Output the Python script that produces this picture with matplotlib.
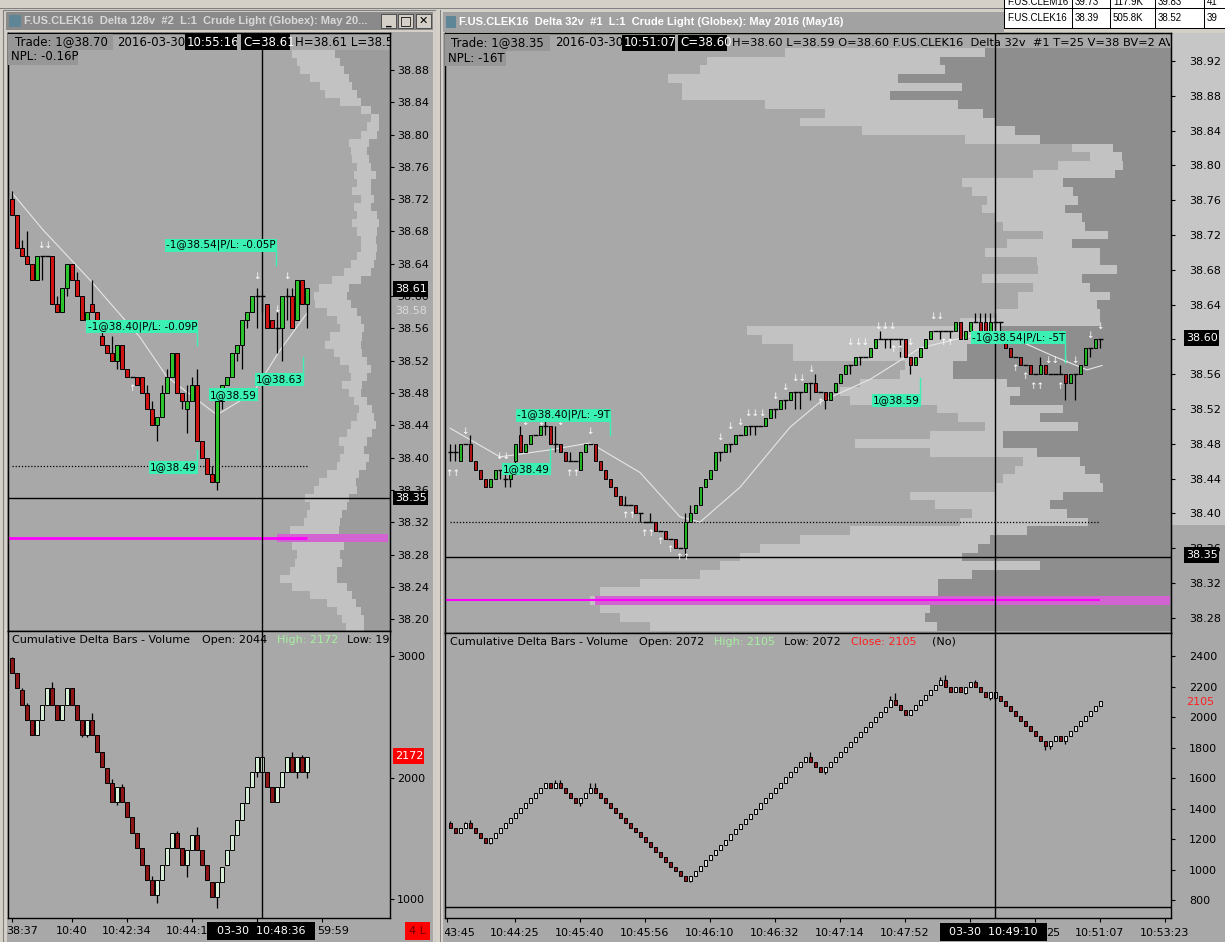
import numpy as np
import matplotlib
matplotlib.use('Agg')
import matplotlib.pyplot as plt
from matplotlib.patches import Rectangle
from matplotlib.transforms import Bbox, TransformedBbox, blended_transform_factory

W, H = 1225, 942
plt.rcParams['font.family'] = ['DejaVu Sans']

# ---------------- left window: Delta 128v (prices in cents above 38.00) ----------------
l_open = [72, 70, 66, 65, 64, 62, 65, 65, 65, 59, 58, 61, 64, 62, 60, 57, 59, 58, 55, 54,
          53, 52, 54, 51, 50, 50, 50, 48, 46, 44, 45, 48, 50, 53, 48, 46, 47, 49, 42, 40,
          38, 37, 47, 49, 50, 53, 54, 57, 58, 60, 60, 59, 57, 56, 56, 60, 60, 57, 62, 59]
l_close = [70, 66, 65, 64, 62, 65, 65, 65, 59, 58, 61, 64, 62, 60, 57, 58, 58, 57, 54, 53,
           52, 54, 51, 50, 50, 49, 48, 46, 44, 45, 48, 50, 53, 48, 47, 47, 49, 42, 40, 38,
           37, 47, 49, 50, 53, 54, 57, 58, 60, 60, 60, 56, 56, 56, 60, 60, 56, 62, 59, 61]
l_high = [73, 70, 67, 68, 64, 65, 65, 65, 65, 60, 61, 64, 64, 63, 60, 58, 62, 58, 56, 54,
          55, 54, 54, 51, 50, 50, 50, 49, 47, 45, 49, 51, 53, 53, 48, 49, 50, 51, 42, 40,
          39, 47, 49, 50, 53, 54, 57, 58, 60, 61, 60, 59, 57, 58, 60, 61, 61, 62, 62, 61]
l_low = [70, 66, 65, 64, 62, 62, 62, 65, 59, 58, 58, 60, 62, 60, 57, 57, 58, 57, 54, 53,
         52, 51, 51, 50, 50, 49, 48, 46, 44, 42, 45, 48, 50, 48, 46, 43, 47, 42, 40, 38,
         37, 36, 46, 49, 50, 52, 51, 56, 58, 56, 58, 56, 56, 53, 52, 57, 56, 57, 59, 56]

l_cd_open = [2981, 2857, 2720, 2597, 2473, 2350, 2473, 2597, 2734, 2597,
             2473, 2597, 2734, 2597, 2473, 2350, 2473, 2350, 2213, 2076,
             1952, 1801, 1925, 1801, 1678, 1541, 1417, 1280, 1157, 1033,
             1157, 1280, 1417, 1541, 1417, 1280, 1404, 1527, 1404, 1280,
             1143, 1020, 1143, 1280, 1404, 1527, 1650, 1788, 1925, 2048,
             2048, 2048, 1925, 1801, 1925, 2048, 2172, 2048, 2172, 2048]
l_cd_close = [2857, 2734, 2597, 2473, 2350, 2473, 2597, 2734, 2597, 2473,
              2597, 2734, 2597, 2473, 2350, 2473, 2350, 2213, 2089, 1952,
              1801, 1925, 1801, 1678, 1541, 1417, 1280, 1157, 1033, 1157,
              1280, 1417, 1541, 1417, 1280, 1404, 1527, 1404, 1280, 1157,
              1020, 1143, 1266, 1404, 1527, 1650, 1788, 1925, 2048, 2172,
              2172, 1925, 1801, 1925, 2048, 2172, 2048, 2172, 2048, 2172]
l_cd_high = [2995, 2857, 2740, 2610, 2473, 2473, 2597, 2734, 2790, 2597,
             2597, 2734, 2734, 2597, 2473, 2473, 2530, 2350, 2213, 2076,
             1990, 1925, 1950, 1801, 1678, 1541, 1417, 1280, 1190, 1157,
             1280, 1417, 1541, 1560, 1417, 1404, 1527, 1596, 1404, 1280,
             1143, 1143, 1266, 1404, 1527, 1650, 1788, 1925, 2048, 2172,
             2172, 2048, 1925, 1925, 2048, 2172, 2213, 2172, 2185, 2172]
l_cd_low = [2857, 2734, 2597, 2473, 2350, 2350, 2473, 2597, 2597, 2473,
            2473, 2597, 2597, 2473, 2330, 2330, 2350, 2213, 2089, 1952,
            1801, 1770, 1801, 1678, 1541, 1417, 1280, 1157, 1033, 965,
            1157, 1280, 1417, 1417, 1280, 1184, 1404, 1404, 1280, 1157,
            1020, 924, 1143, 1280, 1404, 1527, 1650, 1788, 1925, 2007,
            2034, 1925, 1801, 1801, 1925, 2048, 2048, 1993, 2048, 1993]

l_ma_idx = [0, 6.2, 15.6, 25.6, 31, 41, 48.2, 53.6, 59]
l_ma_val = [38.728, 38.682, 38.620, 38.549, 38.500, 38.453, 38.480, 38.533, 38.579]

# volume profile rows 38.90 .. 38.19 (dark part at the right edge, light part to its left)
l_prof_top = 38.90
l_prof_dark = [55, 50, 46, 41, 38, 33, 29, 19, 11, 11, 13, 21, 23, 21, 19, 14, 19, 19, 16, 19,
               13, 11, 13, 14, 13, 14, 16, 19, 29, 41, 43, 39, 33, 29, 26, 28, 29, 28, 23, 19,
               23, 28, 29, 23, 18, 16, 14, 18, 23, 26, 21, 24, 31, 34, 33, 41, 43, 48, 50, 51,
               50, 46, 50, 48, 53, 53, 43, 38, 34, 29, 26, 26]
l_prof_light = [43, 43, 44, 39, 32, 32, 21, 10, 8, 12, 16, 20, 16, 17, 14, 22, 14, 19, 13, 17,
                20, 27, 20, 15, 16, 19, 23, 27, 29, 30, 33, 36, 30, 24, 24, 32, 36, 28, 27, 22,
                16, 20, 12, 13, 13, 17, 25, 25, 28, 20, 29, 29, 32, 37, 43, 44, 37, 35, 36, 49,
                43, 52, 43, 47, 47, 57, 55, 42, 29, 24, 22, 18]

# time axis: tick bars, and the visible part of each label with its bar position
l_xticks = [0, 12, 23, 36, 49, 62]
l_xlab_pos = [2, 12, 23, 35, 64.2]
l_xlabels = ['38:37', '10:40', '10:42:34', '10:44:1', '59:59']

l_trades = [(52.8, 38.663, 38.639, '-1@38.54|P/L: -0.05P'),
            (37.0, 38.562, 38.539, '-1@38.40|P/L: -0.09P'),
            (37.0, 38.388, 38.409, '1@38.49'),
            (49.0, 38.478, None, '1@38.59'),
            (58.2, 38.497, 38.525, '1@38.63')]
l_arrows = [(6.6, 38.663, '↓↓'), (49, 38.624, '↓'), (55, 38.624, '↓'),
            (53, 38.584, '↓'), (24, 38.486, '↑')]

# ---------------- right window: Delta 32v ----------------
r_open = [47, 47, 46, 48, 48, 46, 45, 44, 43, 44, 45, 44, 44, 46, 49, 47, 48, 49, 49, 50,
          50, 48, 48, 47, 46, 46, 45, 47, 48, 48, 46, 45, 44, 43, 42, 41, 41, 41, 40, 39,
          39, 39, 38, 38, 37, 37, 36, 36, 39, 40, 41, 43, 44, 45, 47, 47, 48, 48, 49, 49,
          50, 50, 50, 50, 51, 52, 52, 53, 53, 54, 54, 54, 55, 55, 54, 54, 53, 54, 55, 56,
          57, 57, 58, 58, 58, 59, 60, 60, 60, 60, 60, 60, 58, 57, 58, 59, 60, 61, 61, 61,
          61, 61, 62, 60, 61, 62, 62, 62, 61, 62, 62, 60, 59, 58, 58, 57, 57, 56, 56, 57,
          56, 56, 56, 56, 55, 56, 56, 57, 59, 59, 60]
r_close = [47, 47, 48, 48, 46, 45, 44, 43, 44, 45, 45, 44, 45, 48, 47, 48, 49, 49, 50, 50,
           48, 48, 47, 46, 46, 46, 47, 48, 48, 46, 45, 44, 43, 42, 41, 41, 41, 40, 40, 39,
           39, 38, 38, 37, 37, 36, 36, 39, 40, 41, 43, 44, 45, 47, 47, 48, 48, 49, 49, 50,
           50, 50, 50, 51, 52, 52, 53, 53, 54, 54, 54, 55, 55, 54, 54, 53, 54, 55, 56, 57,
           57, 58, 58, 58, 59, 60, 60, 60, 60, 60, 60, 58, 57, 58, 59, 60, 61, 61, 61, 61,
           61, 62, 60, 61, 62, 62, 61, 61, 62, 62, 62, 59, 58, 58, 57, 57, 56, 56, 57, 56,
           56, 56, 56, 55, 56, 56, 57, 59, 59, 60, 60]
r_high = [48, 48, 48, 48, 49, 46, 45, 44, 44, 45, 45, 45, 45, 48, 50, 48, 49, 49, 50, 51,
          50, 50, 48, 47, 47, 46, 47, 48, 48, 48, 46, 45, 44, 43, 42, 42, 41, 41, 40, 39,
          40, 39, 38, 38, 37, 37, 36, 40, 41, 41, 43, 44, 45, 47, 47, 48, 48, 49, 49, 50,
          50, 50, 50, 51, 52, 52, 53, 53, 54, 54, 54, 55, 55, 56, 54, 54, 54, 55, 56, 57,
          57, 58, 58, 58, 59, 60, 61, 60, 60, 60, 60, 60, 58, 58, 59, 60, 61, 61, 61, 61,
          61, 62, 62, 61, 62, 63, 63, 63, 63, 63, 62, 60, 59, 58, 58, 57, 57, 56, 58, 57,
          56, 56, 57, 56, 56, 56, 57, 59, 59, 60, 60]
r_low = [46, 46, 46, 48, 46, 45, 44, 43, 43, 44, 44, 43, 43, 45, 47, 47, 48, 49, 49, 49,
         48, 47, 47, 46, 46, 46, 45, 47, 48, 46, 45, 44, 43, 42, 41, 41, 41, 40, 39, 39,
         39, 38, 38, 37, 37, 36, 36, 35, 39, 40, 41, 43, 44, 45, 46, 47, 47, 48, 49, 49,
         49, 49, 50, 50, 51, 51, 52, 52, 53, 52, 52, 54, 53, 54, 54, 52, 53, 54, 55, 56,
         56, 57, 57, 58, 58, 59, 60, 59, 59, 60, 58, 58, 56, 57, 58, 59, 60, 61, 60, 61,
         60, 61, 60, 60, 61, 62, 61, 61, 61, 61, 61, 59, 58, 58, 57, 57, 56, 56, 56, 56,
         56, 56, 56, 53, 55, 53, 56, 57, 58, 59, 59]

r_cd_open = [1303, 1270, 1237, 1270, 1303, 1270, 1237, 1204, 1171, 1204,
             1237, 1270, 1303, 1336, 1369, 1402, 1435, 1468, 1501, 1534,
             1567, 1534, 1567, 1534, 1501, 1468, 1435, 1468, 1501, 1534,
             1501, 1467, 1435, 1403, 1371, 1339, 1307, 1275, 1243, 1211,
             1179, 1147, 1115, 1083, 1051, 1019, 987, 955, 925, 958,
             992, 1026, 1060, 1094, 1128, 1162, 1196, 1230, 1264, 1298,
             1332, 1366, 1400, 1434, 1468, 1502, 1536, 1570, 1604, 1638,
             1672, 1706, 1740, 1707, 1674, 1641, 1672, 1705, 1738, 1771,
             1804, 1837, 1870, 1903, 1936, 1969, 2002, 2035, 2068, 2111,
             2079, 2046, 2013, 2046, 2079, 2111, 2144, 2177, 2210, 2242,
             2199, 2166, 2199, 2155, 2199, 2232, 2199, 2166, 2122, 2122,
             2138, 2105, 2072, 2039, 2006, 1973, 1940, 1907, 1874, 1841,
             1808, 1841, 1874, 1841, 1874, 1907, 1940, 1973, 2006, 2039, 2072]
r_cd_close = [1270, 1237, 1270, 1303, 1270, 1237, 1204, 1171, 1204, 1237,
              1270, 1303, 1336, 1369, 1402, 1435, 1468, 1501, 1534, 1567,
              1534, 1567, 1534, 1501, 1468, 1435, 1468, 1501, 1534, 1501,
              1467, 1435, 1403, 1371, 1339, 1307, 1275, 1243, 1211, 1179,
              1147, 1115, 1083, 1051, 1019, 987, 955, 925, 958, 992,
              1026, 1060, 1094, 1128, 1162, 1196, 1230, 1264, 1298, 1332,
              1366, 1400, 1434, 1468, 1502, 1536, 1570, 1604, 1638, 1672,
              1706, 1740, 1707, 1674, 1641, 1672, 1705, 1738, 1771, 1804,
              1837, 1870, 1903, 1936, 1969, 2002, 2035, 2068, 2111, 2079,
              2046, 2013, 2046, 2079, 2111, 2144, 2177, 2210, 2242, 2199,
              2166, 2199, 2166, 2199, 2232, 2199, 2166, 2133, 2166, 2166,
              2105, 2072, 2039, 2006, 1973, 1940, 1907, 1874, 1841, 1808,
              1841, 1874, 1841, 1874, 1907, 1940, 1973, 2006, 2039, 2072, 2105]
r_cd_high = [1320, 1270, 1270, 1310, 1325, 1270, 1237, 1204, 1204, 1237,
             1270, 1303, 1336, 1369, 1402, 1435, 1468, 1501, 1534, 1567,
             1567, 1590, 1585, 1534, 1501, 1468, 1468, 1501, 1570, 1565,
             1501, 1467, 1435, 1403, 1371, 1339, 1307, 1275, 1243, 1211,
             1179, 1147, 1115, 1083, 1051, 1019, 987, 955, 958, 992,
             1026, 1060, 1094, 1128, 1162, 1196, 1230, 1264, 1298, 1332,
             1366, 1400, 1434, 1468, 1502, 1536, 1570, 1604, 1638, 1672,
             1706, 1740, 1770, 1707, 1674, 1672, 1705, 1738, 1771, 1804,
             1837, 1870, 1903, 1936, 1969, 2002, 2035, 2068, 2140, 2155,
             2079, 2046, 2046, 2079, 2111, 2144, 2177, 2210, 2265, 2275,
             2199, 2199, 2199, 2199, 2232, 2245, 2199, 2166, 2166, 2166,
             2138, 2105, 2072, 2039, 2006, 1973, 1940, 1907, 1874, 1841,
             1841, 1874, 1874, 1874, 1907, 1940, 1973, 2006, 2039, 2072, 2105]
r_cd_low = [1270, 1237, 1237, 1270, 1270, 1237, 1204, 1171, 1165, 1204,
            1237, 1270, 1303, 1336, 1369, 1402, 1435, 1468, 1501, 1534,
            1534, 1534, 1534, 1501, 1468, 1435, 1415, 1468, 1501, 1501,
            1467, 1435, 1403, 1371, 1339, 1307, 1275, 1243, 1211, 1179,
            1147, 1115, 1083, 1051, 1019, 987, 955, 925, 915, 958,
            992, 1026, 1060, 1094, 1128, 1162, 1196, 1230, 1264, 1298,
            1332, 1366, 1400, 1434, 1468, 1502, 1536, 1570, 1604, 1638,
            1672, 1706, 1707, 1674, 1641, 1625, 1672, 1705, 1738, 1771,
            1804, 1837, 1870, 1903, 1936, 1969, 2002, 2035, 2068, 2079,
            2046, 2013, 2013, 2046, 2079, 2111, 2144, 2177, 2210, 2199,
            2166, 2166, 2166, 2150, 2199, 2199, 2166, 2133, 2110, 2110,
            2105, 2072, 2039, 2006, 1973, 1940, 1907, 1874, 1841, 1785,
            1790, 1841, 1841, 1820, 1874, 1907, 1940, 1973, 2006, 2039, 2072]

r_ma_idx = [0, 10, 20, 28, 38, 46, 50, 58, 68, 74, 84, 94, 104, 114, 120.6, 127.4, 130.4]
r_ma_val = [38.498, 38.465, 38.473, 38.481, 38.447, 38.396, 38.390, 38.430, 38.499,
            38.528, 38.554, 38.590, 38.604, 38.598, 38.581, 38.565, 38.570]

# volume profile rows 38.93 .. 38.27
r_prof_top = 38.93
r_prof_dark = [186, 231, 226, 273, 209, 281, 213, 188, 176, 156, 131, 58, 49, 48, 56, 108, 98,
               93, 106, 89, 86, 63, 99, 71, 71, 54, 89, 81, 61, 74, 71, 71, 171, 198, 204, 204,
               218, 218, 164, 151, 161, 108, 131, 93, 168, 168, 134, 91, 86, 71, 68, 108, 121,
               104, 83, 144, 181, 193, 209, 131, 199, 233, 233, 241, 241, 246, 234]
r_prof_light = [200, 233, 245, 230, 280, 208, 193, 158, 195, 153, 75, 41, 32, 65, 82, 101, 101,
                91, 83, 87, 82, 65, 65, 115, 63, 79, 100, 57, 92, 79, 105, 140, 253, 211, 174,
                174, 48, 53, 147, 180, 160, 126, 82, 93, 73, 148, 107, 57, 70, 97, 108, 153, 115,
                95, 128, 177, 190, 218, 222, 320, 272, 298, 338, 340, 330, 305, 287]

r_xticks = [-0.6, 13, 26, 39, 52, 65, 78, 91, 104, 117, 130, 143]
r_xlab_pos = [1.8, 13, 26, 39, 52, 65, 78, 91, 120.6, 130, 143]
r_xlabels = ['43:45', '10:44:25', '10:45:40', '10:45:56', '10:46:10', '10:46:32',
             '10:47:14', '10:47:52', '25', '10:51:07', '10:53:23']

r_trades = [(32.0, 38.513, 38.490, '-1@38.40|P/L: -9T'),
            (20.0, 38.451, 38.475, '1@38.49'),
            (94.0, 38.530, 38.556, '1@38.59'),
            (123.0, 38.602, 38.574, '-1@38.54|P/L: -5T')]
r_arrows = [(3, 38.494, '↓'), (0.6, 38.446, '↑↑'), (10.6, 38.465, '↓↓'), (15, 38.504, '↓'),
            (18.2, 38.504, '↓'), (22, 38.504, '↓'), (28, 38.494, '↓'), (24.6, 38.446, '↑↑'),
            (35.7, 38.397, '↑↑'), (39.6, 38.377, '↑↑'), (42, 38.368, '↑'), (44, 38.358, '↑'),
            (46.6, 38.349, '↑↑'), (54, 38.487, '↓'), (56, 38.500, '↓'), (58, 38.505, '↓'),
            (61, 38.515, '↓↓↓'), (65, 38.534, '↓'), (67, 38.545, '↓'), (69.7, 38.555, '↓↓'),
            (72.2, 38.565, '↓'), (74, 38.527, '↑'), (80, 38.596, '↓'), (82.3, 38.596, '↓↓'),
            (87, 38.615, '↓↓↓'), (89.4, 38.588, '↑↑'), (92, 38.596, '↓'), (97.4, 38.626, '↓↓'),
            (99.4, 38.597, '↑↑'), (113, 38.567, '↑'), (115, 38.557, '↑'), (117.4, 38.546, '↑↑'),
            (120.4, 38.576, '↓↓'), (123, 38.576, '↓'), (125, 38.576, '↓'), (122, 38.546, '↑'),
            (128, 38.605, '↓'), (130, 38.615, '↓')]

BG = '#a8a8a8'
LABEL_BG = '#3cf0b4'


fig = plt.figure(figsize=(W / 100, H / 100), dpi=100, facecolor='#d4d0c8')


def add_ax(x0, y0, x1, y1):
    return fig.add_axes([x0 / W, 1 - y1 / H, (x1 - x0) / W, (y1 - y0) / H])


def rect(x0, y0, x1, y1, fc, z=-10, ec='none', lw=0):
    fig.add_artist(Rectangle((x0 / W, 1 - y1 / H), (x1 - x0) / W, (y1 - y0) / H,
                             transform=fig.transFigure, facecolor=fc, edgecolor=ec,
                             linewidth=lw, zorder=z))


def clip_px(x0, y0, x1, y1):
    return TransformedBbox(Bbox.from_extents(x0 / 100, (H - y1) / 100, x1 / 100, (H - y0) / 100),
                           fig.dpi_scale_trans)


def ftext(x, y, s, color='black', size=8, ha='left', weight='normal', clip=None, family=None, z=5):
    t = fig.text(x / W, 1 - y / H, s, color=color, fontsize=size, ha=ha, va='center',
                 fontweight=weight, zorder=z)
    if family:
        t.set_family(family)
    if clip is not None:
        t.set_clip_box(clip_px(*clip))
        t.set_clip_on(True)
    return t


def candles(ax, o, c, h, lo, w, up_fc, dn_fc, scale=1.0, base=0.0):
    o = np.asarray(o)
    c = np.asarray(c)
    x = np.arange(len(o))
    conv = lambda v: base + np.asarray(v) * scale
    ax.vlines(x, conv(lo), conv(h), colors='black', lw=0.9, zorder=3)
    up, dn, eq = c > o, c < o, c == o
    ax.bar(x[up], conv(c[up]) - conv(o[up]), w, bottom=conv(o[up]), color=up_fc,
           edgecolor='black', linewidth=0.7, zorder=4)
    ax.bar(x[dn], conv(o[dn]) - conv(c[dn]), w, bottom=conv(c[dn]), color=dn_fc,
           edgecolor='black', linewidth=0.7, zorder=4)
    ax.hlines(conv(o[eq]), x[eq] - 0.5, x[eq] + 0.5, colors='black', lw=1.0, zorder=4)


def style_axis(ax, pad):
    ax.yaxis.tick_right()
    ax.tick_params(axis='y', length=3, width=0.8, colors='black', labelsize=8, pad=pad)
    for s in ax.spines.values():
        s.set_color('black')
        s.set_linewidth(1)


def price_panel(box, ylim, prof_top, dark, light, width_px, dark_fc, band, yticks, hidden, pad, xlim):
    ax = add_ax(*box)
    ax.set_facecolor(BG)
    levels = np.round(prof_top - 0.01 * np.arange(len(dark)), 2)
    ax.barh(levels, dark, left=0, height=0.01, color=dark_fc, lw=0, antialiased=False)
    ax.barh(levels, light, left=dark, height=0.01, color='#c2c2c2', lw=0, antialiased=False)
    ax.barh(38.30, band[1], left=band[0], height=0.01, color='#d264d2', lw=0, antialiased=False)
    ax.set_xlim(width_px, 0)
    ax.set_ylim(*ylim)
    style_axis(ax, pad)
    ax.set_yticks(yticks)
    ax.set_yticklabels(['' if v in hidden else '%.2f' % v for v in yticks])
    ax.tick_params(axis='x', bottom=False, labelbottom=False)
    cx = ax.twiny()
    cx.set_xlim(*xlim)
    cx.tick_params(axis='x', top=False, labeltop=False)
    for s in cx.spines.values():
        s.set_color('black')
    return ax, cx


def trade_labels(ax, trades):
    for i, p, stem, s in trades:
        ax.text(i, p, s, ha='right', va='center', fontsize=7.5, color='black', zorder=7,
                bbox=dict(boxstyle='square,pad=0.12', fc=LABEL_BG, ec='none'))
        if stem is not None:
            ax.plot([i, i], [p, stem], color=LABEL_BG, lw=1, zorder=7)


def arrows(ax, items):
    for i, p, s in items:
        ax.text(i, p, s, ha='center', va='center', fontsize=6.5, color='white', zorder=6)


def time_axis(ax, ticks, pos, labels, y_px, clip):
    ax.set_xticks(ticks)
    ax.tick_params(axis='x', length=3, width=0.8, labelbottom=False)
    tr = blended_transform_factory(ax.transData, fig.transFigure)
    for i, s in zip(pos, labels):
        t = ax.text(i, 1 - y_px / H, s, transform=tr, ha='center', va='center', fontsize=8, zorder=5)
        t.set_clip_box(clip_px(*clip))
        t.set_clip_on(True)


# ---------------- window chrome ----------------
rect(0, 0, 1005, 10, '#d4d0c8')
rect(0, 8, 1005, 9, '#808080')
rect(3, 10, 436, 942, '#d4d0c8', ec='#808080', lw=0.8)
rect(7, 32, 433, 942, BG)
rect(6, 12, 433, 30, '#8a8a8a')
rect(9, 15, 21, 27, '#5f8696')
rect(436, 10, 443, 942, '#d4d0c8')
rect(440, 10, 441, 942, '#808080')
rect(443, 33, 1225, 942, BG)
rect(443, 12, 1004, 32, '#a2a2a2')
rect(446, 16, 456, 28, '#5f8696')
rect(1172, 33, 1225, 525, '#c6c6c6')
for bx in (381, 398, 416):
    rect(bx, 14, bx + 15, 28, '#d4d0c8', z=3, ec='#404040', lw=0.6)
ftext(388.5, 22, '_', size=8, ha='center', weight='bold')
ftext(405.5, 21, '□', size=9, ha='center')
ftext(423.5, 21, '✕', size=8, ha='center', weight='bold')
ftext(24, 21, 'F.US.CLEK16  Delta 128v  #2  L:1  Crude Light (Globex): May 20...', color='#d8d8d8',
      size=8, weight='bold', clip=(20, 10, 376, 32), family=['Liberation Sans', 'DejaVu Sans'])
ftext(459, 22, 'F.US.CLEK16  Delta 32v  #1  L:1  Crude Light (Globex): May 2016 (May16)',
      color='white', size=8, weight='bold', family=['Liberation Sans', 'DejaVu Sans'])

# quote table
rect(1004, 0, 1225, 29, 'white', z=-9)
for gx in (1004, 1072, 1110, 1155, 1204):
    rect(gx, 0, gx + 1, 29, 'black', z=-8)
rect(1004, 8, 1225, 9, 'black', z=-8)
rect(1004, 28, 1225, 29, 'black', z=-8)
for row_y, cells in ((2, ['F.US.CLEM16', '39.73', '117.9K', '39.83', '41']),
                     (18, ['F.US.CLEK16', '38.39', '505.8K', '38.52', '39'])):
    for cx_, s in zip((1007, 1075, 1113, 1158, 1207), cells):
        ftext(cx_, row_y, s, size=7, clip=(1004, 0, 1225, 29),
              family=['Liberation Sans', 'DejaVu Sans'])

# ---------------- left window panels ----------------
lp, lc = price_panel((8, 33, 390, 631), (38.1853, 38.9258), l_prof_top, l_prof_dark, l_prof_light,
                     382, '#9c9c9c', (2, 111), np.round(np.arange(38.20, 38.90, 0.04), 2), (), 2,
                     (-0.8, 75.6))
lc.hlines(38.39, 0, 59, colors='black', linestyles=(0, (1, 1.5)), lw=0.9, zorder=2)
lc.hlines(38.30, -0.8, 59, colors='#ff00ff', lw=2, zorder=2)
lc.plot(l_ma_idx, l_ma_val, color='#e6e6e6', lw=0.8, zorder=3)
candles(lc, l_open, l_close, l_high, l_low, 0.75, '#2cc42c', '#d01414', scale=0.01, base=38.0)
lc.axhline(38.35, color='black', lw=1, zorder=5)
lc.axvline(50, color='black', lw=1, zorder=5)
trade_labels(lc, l_trades)
arrows(lc, l_arrows)

ld = add_ax(8, 631, 390, 918)
ld.set_facecolor(BG)
ld.set_xlim(-0.8, 75.6)
ld.set_ylim(844, 3206)
style_axis(ld, 2)
ld.set_yticks([1000, 2000, 3000])
candles(ld, l_cd_open, l_cd_close, l_cd_high, l_cd_low, 0.62, '#d8f0d8', '#8e1515')
ld.axvline(50, color='black', lw=1, zorder=5)
time_axis(ld, l_xticks, l_xlab_pos, l_xlabels, 931, (7, 919, 400, 942))

# ---------------- right window panels ----------------
rp, rc = price_panel((445, 33, 1171, 633), (38.2625, 38.9522), r_prof_top, r_prof_dark, r_prof_light,
                     726, '#8e8e8e', (1, 575), np.round(np.arange(38.28, 38.94, 0.04), 2), (38.6,), 10,
                     (-1, 144.2))
rc.hlines(38.39, 0, 130, colors='black', linestyles=(0, (1, 1.5)), lw=0.9, zorder=2)
rc.hlines(38.30, -1, 130, colors='#ff00ff', lw=1.5, zorder=2)
rc.plot(r_ma_idx, r_ma_val, color='#e6e6e6', lw=0.8, zorder=3)
candles(rc, r_open, r_close, r_high, r_low, 0.6, '#22b422', '#b01414', scale=0.01, base=38.0)
rc.axhline(38.35, color='black', lw=1, zorder=5)
rc.axvline(109, color='black', lw=1, zorder=5)
trade_labels(rc, r_trades)
arrows(rc, r_arrows)

rd = add_ax(445, 633, 1171, 918)
rd.set_facecolor(BG)
rd.set_xlim(-1, 144.2)
rd.set_ylim(682, 2551)
style_axis(rd, 10)
rd.set_yticks(list(range(800, 2401, 200)))
candles(rd, r_cd_open, r_cd_close, r_cd_high, r_cd_low, 0.6, '#e2e2e2', '#8e1515')
rd.axhline(754, color='black', lw=1, zorder=5)
rd.axvline(109, color='black', lw=1, zorder=5)
time_axis(rd, r_xticks, r_xlab_pos, r_xlabels, 933, (445, 919, 1225, 942))

# ---------------- header lines, axis flags, cursor boxes ----------------
# left header
rect(8, 34, 113, 50, '#979797', z=3)
ftext(15, 42, 'Trade: 1@38.70', size=8.5)
ftext(117, 42, '2016-03-30', size=8.5)
rect(185, 34, 237, 50, 'black', z=3)
ftext(187, 42, '10:55:16', color='white', size=8.5, clip=(185, 34, 237, 50))
rect(241, 34, 290, 50, 'black', z=3)
ftext(243, 42, 'C=38.61', color='white', size=8.5)
ftext(295, 42, 'H=38.61 L=38.56 O=38.56', size=8.5, clip=(290, 33, 390, 52))
rect(8, 50, 78, 65, '#979797', z=3)
ftext(11, 57, 'NPL: -0.16P', size=8.5)

# right header
rect(445, 34, 550, 51, '#979797', z=3)
ftext(451, 43, 'Trade: 1@38.35', size=8.5)
ftext(555, 43, '2016-03-30', size=8.5)
rect(622, 35, 675, 51, 'black', z=3)
ftext(624, 43, '10:51:07', color='white', size=8.5, clip=(622, 35, 675, 51))
rect(678, 35, 727, 51, 'black', z=3)
ftext(680, 43, 'C=38.60', color='white', size=8.5)
ftext(732, 43, 'H=38.60 L=38.59 O=38.60 F.US.CLEK16  Delta 32v  #1 T=25 V=38 BV=2 AV=36',
      size=8.2, clip=(728, 33, 1170, 52))
rect(445, 51, 506, 66, '#979797', z=3)
ftext(448, 58, 'NPL: -16T', size=8.5)

# delta headers
ftext(12, 640, 'Cumulative Delta Bars - Volume', size=8)
ftext(202, 640, 'Open: 2044', size=8)
ftext(277, 640, 'High: 2172', size=8, color='#a6f0a0')
ftext(347, 640, 'Low: 1960', size=8, clip=(340, 632, 390, 650))
ftext(450, 642, 'Cumulative Delta Bars - Volume', size=8)
ftext(639, 642, 'Open: 2072', size=8)
ftext(714, 642, 'High: 2105', size=8, color='#a6f0a0')
ftext(784, 642, 'Low: 2072', size=8)
ftext(851, 642, 'Close: 2105', size=8, color='#ff2020')
ftext(932, 642, '(No)', size=8)

# price flags
rect(393, 281, 428, 297, 'black', z=4)
ftext(395, 289, '38.61', color='white', size=8, z=6)
ftext(395, 311, '38.58', color='#dcdcdc', size=8, z=6)
rect(393, 491, 428, 505, 'black', z=4)
ftext(395, 498, '38.35', color='white', size=8, z=6)
rect(1184, 330, 1219, 346, 'black', z=4)
ftext(1186, 338, '38.60', color='white', size=8, z=6)
rect(1184, 547, 1219, 563, 'black', z=4)
ftext(1186, 555, '38.35', color='white', size=8, z=6)
rect(393, 748, 424, 764, '#ff0000', z=4)
ftext(395, 756, '2172', color='white', size=8, z=6)
ftext(1186, 702, '2105', color='#ff2020', size=8, z=6)

# time cursor boxes and order flag
rect(207, 922, 315, 940, 'black', z=4)
ftext(261, 931, '03-30  10:48:36', color='white', size=8, ha='center', z=6)
rect(940, 923, 1047, 941, 'black', z=4)
ftext(993, 932, '03-30  10:49:10', color='white', size=8, ha='center', z=6)
rect(405, 922, 430, 940, '#ff0000', z=4)
ftext(417.5, 931, '4 L', color='#700000', size=8, ha='center', z=6)

fig.savefig('out.png', dpi=100, facecolor=fig.get_facecolor())
